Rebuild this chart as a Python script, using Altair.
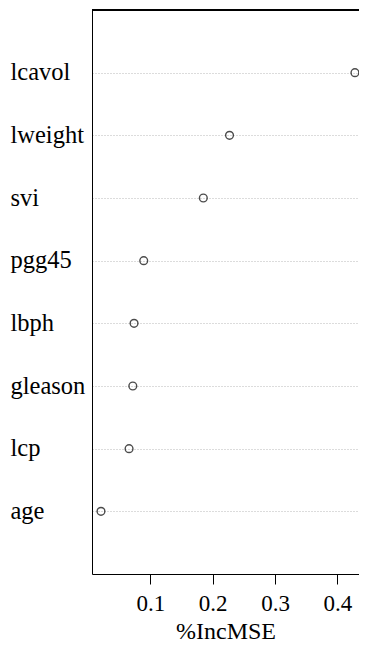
import altair as alt
import pandas as pd

variables = ["lcavol", "lweight", "svi", "pgg45", "lbph", "gleason", "lcp", "age"]
inc_mse = [0.428, 0.227, 0.185, 0.0895, 0.074, 0.072, 0.066, 0.021]
x_ticks = [0.1, 0.2, 0.3, 0.4]

df = pd.DataFrame({"var": variables, "val": inc_mse})

W, H = 267, 564
FONT = "Liberation Serif"

base = alt.Chart(df)

pts = base.mark_point(shape="circle", filled=False, color="black", size=60, strokeWidth=1.4).encode(
    x=alt.X("val:Q", title="%IncMSE",
            scale=alt.Scale(domain=[0.0066, 0.4345], nice=False, zero=False),
            axis=alt.Axis(values=x_ticks, format=".1f", grid=False, tickSize=10,
                          tickColor="black", domainColor="black", labelFontSize=23,
                          labelFont=FONT, labelColor="black", labelPadding=8,
                          titleFont=FONT, titleFontSize=24, titleFontWeight="normal",
                          titleColor="black", titlePadding=4, labelFlush=False)),
    y=alt.Y("var:N", sort=variables, title=None,
            scale=alt.Scale(type="point", padding=1),
            axis=alt.Axis(ticks=False, grid=True, gridDash=[1, 2], gridColor="#b8b8b8",
                          gridWidth=1, domainColor="black", labelAlign="left",
                          labelPadding=82, labelFontSize=24.5, labelFont=FONT,
                          labelColor="black", labelBaseline="middle")),
)

top = base.mark_rule(color="black", strokeWidth=1).encode(
    x=alt.value(0), x2=alt.value(W), y=alt.value(0)
)

chart = alt.layer(pts, top).properties(
    width=W, height=H,
    autosize=alt.AutoSizeParams(type="none"),
    padding={"left": 84, "top": 2, "right": 0, "bottom": 74},
).configure_view(stroke=None)

chart.save("out.html", embed_options={"renderer": "svg", "actions": False})
